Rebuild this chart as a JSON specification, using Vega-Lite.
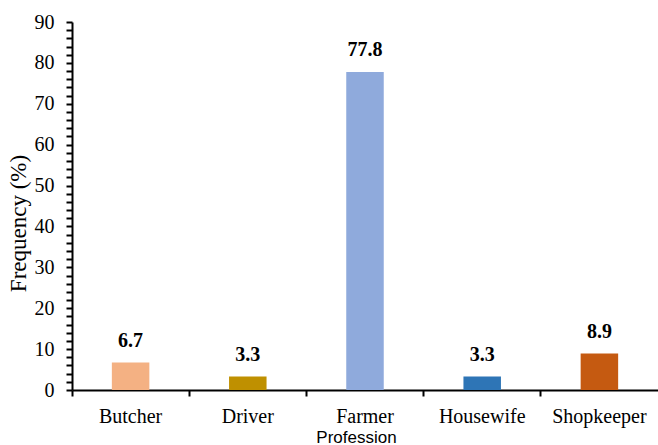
{
  "$schema": "https://vega.github.io/schema/vega-lite/v6.json",
  "width": 586,
  "height": 368,
  "autosize": "none",
  "padding": {"left": 72, "top": 22, "right": 0, "bottom": 55},
  "background": "white",
  "config": {"view": {"stroke": null}},
  "data": {"values": [
    {"profession": "Butcher", "freq": 6.7, "color": "#F4B183"},
    {"profession": "Driver", "freq": 3.3, "color": "#BF9000"},
    {"profession": "Farmer", "freq": 77.8, "color": "#8FAADC"},
    {"profession": "Housewife", "freq": 3.3, "color": "#2E75B6"},
    {"profession": "Shopkeeper", "freq": 8.9, "color": "#C55A11"}
  ]},
  "encoding": {
    "x": {"field": "profession", "type": "nominal", "sort": null,
      "scale": {"paddingInner": 0, "paddingOuter": 0},
      "axis": {"title": "Profession", "labelAngle": 0, "bandPosition": 0,
        "labelFont": "Times New Roman, Liberation Serif, serif", "labelFontSize": 20, "labelColor": "black",
        "labelPadding": 10, "titleFont": "Liberation Sans", "titleFontSize": 17,
        "titleFontWeight": "normal", "titleColor": "black", "titleX": 284, "titleY": 47, "titleBaseline": "middle",
        "domainColor": "black", "domainWidth": 2, "tickColor": "black", "tickWidth": 2, "tickSize": 6, "grid": false}},
    "y": {"field": "freq", "type": "quantitative",
      "scale": {"domain": [0, 90], "nice": false},
      "axis": {"title": "Frequency (%)", "values": [0,2,4,6,8,10,12,14,16,18,20,22,24,26,28,30,32,34,36,38,40,42,44,46,48,50,52,54,56,58,60,62,64,66,68,70,72,74,76,78,80,82,84,86,88,90],
        "labelExpr": "datum.value % 10 == 0 ? datum.label : ''",
        "labelFont": "Times New Roman, Liberation Serif, serif", "labelFontSize": 20, "labelColor": "black", "labelPadding": 12,
        "titleFont": "Times New Roman, Liberation Serif, serif", "titleFontSize": 23, "titleFontWeight": "normal", "titleColor": "black",
        "titleX": -54, "titleY": 201, "titleAlign": "center", "titleBaseline": "middle", "titleAngle": 270,
        "domainColor": "black", "domainWidth": 2, "tickColor": "black", "tickWidth": 2, "tickSize": 6, "grid": false}}
  },
  "layer": [
    {"mark": {"type": "bar", "width": {"band": 0.32}},
      "encoding": {"color": {"field": "color", "type": "nominal", "scale": null}}},
    {"mark": {"type": "text", "baseline": "alphabetic", "dy": -16, "font": "Times New Roman, Liberation Serif, serif", "fontSize": 20, "fontWeight": "bold", "color": "black"},
      "encoding": {"text": {"field": "freq", "type": "quantitative", "format": ".1f"}}}
  ]
}
